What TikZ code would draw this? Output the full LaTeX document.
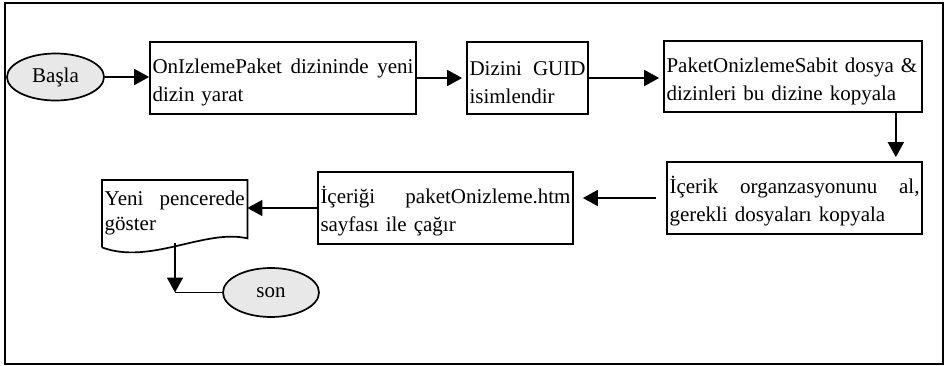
\documentclass[tikz,border=0pt]{standalone}
\usepackage{fontspec}
\setmainfont{Liberation Serif}
\usetikzlibrary{arrows.meta,shapes.geometric,calc}
\definecolor{termfill}{RGB}{232,232,232}
% a justified line of the given width; the strut sets the first line lower
\newcommand\jline[2]{\hbox to #1{\rule{0pt}{24pt}#2}}
\newcommand\fline[1]{\hbox{\rule{0pt}{24pt}#1}}
\tikzset{
  line/.style={line width=1.7pt},
  flow/.style={line, -{Triangle[length=15pt,width=16pt]}},
  stepbox/.style={draw, line, rectangle, inner xsep=2.5pt, inner ysep=0pt,
    align=left, font=\fontsize{21}{28}\selectfont},
  terminal/.style={draw, line, ellipse, fill=termfill, inner sep=0pt,
    font=\fontsize{21}{28}\selectfont},
  docbox/.style={rectangle, inner xsep=2.5pt, inner ysep=0pt,
    align=left, font=\fontsize{21}{25}\selectfont},
}
\begin{document}
\begin{tikzpicture}[x=1pt,y=-1pt]
\useasboundingbox (0,0) rectangle (947,366);
% outer frame
\draw[line] (5,3) rectangle (943,364);

% start
\node[terminal, minimum width=97pt, minimum height=47pt] (start) at (55.5,77) {Başla};

% process steps
\node[stepbox, text width=261pt, minimum height=72pt] (b1) at (283,78)
  {\jline{261pt}{OnIzlemePaket\hfill dizininde\hfill yeni}\\\mbox{dizin yarat}};
\node[stepbox, text width=116pt, minimum height=72pt] (b2) at (527.5,78)
  {\jline{116pt}{Dizini\hfill GUID}\\\mbox{isimlendir}};
\node[stepbox, text width=253pt, minimum height=71pt] (b3) at (793,76.5)
  {\fline{PaketOnizlemeSabit dosya \&}\\\mbox{dizinleri bu dizine kopyala}};
\node[stepbox, text width=250pt, minimum height=72pt] (b4) at (794.5,198)
  {\jline{250pt}{İçerik\hfill organzasyonunu\hfill al,}\\\mbox{gerekli dosyaları kopyala}};
\node[stepbox, text width=250pt, minimum height=72pt] (b5) at (445.5,208)
  {\jline{250pt}{İçeriği\hfill paketOnizleme.htm}\\\mbox{sayfası ile çağır}};

% document shape with a wavy lower edge
\node[docbox, text width=140pt, minimum height=58pt, anchor=north west] (doc) at (102,180)
  {\hbox to 140pt{\rule{0pt}{22pt}Yeni\hfill pencerede}\\\mbox{göster}};
\draw[line] ($(doc.south west)+(0,9)$) -- (doc.north west) -- (doc.north east) -- (doc.south east)
  .. controls ($(doc.south east)+(-42,-10)$) and ($(doc.south west)+(48,27)$) .. ($(doc.south west)+(0,9)$);

% end
\node[terminal, minimum width=96pt, minimum height=49pt] (end) at (271,292.5) {son};

% connectors
\draw[flow] (start.east) -- (start.east -| b1.west);
\draw[flow, shorten >=4pt] (b1.east) -- (b1.east -| b2.west);
\draw[flow, shorten >=4pt] (b2.east) -- (b2.east -| b3.west);
\draw[flow, shorten >=4pt] ($(b3.south east)+(-27,0)$) -- ($(b4.north east)+(-27,0)$);
\draw[flow, shorten <=10pt, shorten >=9pt] (b4.west) -- (b4.west -| b5.east);
\draw[flow] (b5.west) -- (b5.west -| doc.east);
\coordinate (docfoot) at ($(doc.south west)+(73,5)$);
\coordinate (bend) at (docfoot |- end.west);
\draw[flow] (docfoot) -- (bend);
\draw[line] (bend) -- (end.west);
\end{tikzpicture}
\end{document}
